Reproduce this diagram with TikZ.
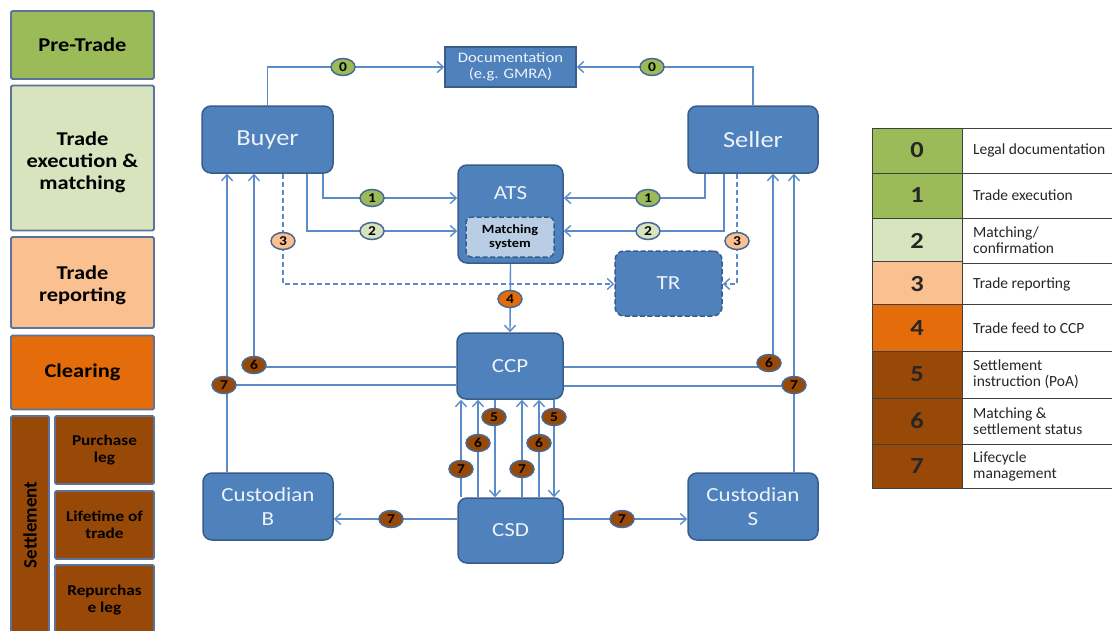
\documentclass[tikz,border=0pt]{standalone}
\usepackage{fontspec}
\setmainfont{Carlito}[FakeStretch=1.15]
\newfontfamily\legfont{Carlito}
\usetikzlibrary{arrows.meta,shapes.geometric}
\definecolor{boxblue}{HTML}{4F81BD}
\definecolor{boxedge}{HTML}{385D8A}
\definecolor{linecol}{HTML}{5B8BC9}
\definecolor{pregreen}{HTML}{9BBB59}
\definecolor{ltgreen}{HTML}{D7E4BD}
\definecolor{peach}{HTML}{FAC090}
\definecolor{clrorange}{HTML}{E46C0A}
\definecolor{clrbrown}{HTML}{984807}
\definecolor{panedge}{HTML}{5B7399}
\definecolor{badgeedge}{HTML}{4A6A96}
\definecolor{msfill}{HTML}{B9CDE5}
\definecolor{legedge}{HTML}{404040}
\definecolor{textgray}{HTML}{262626}
\definecolor{boxtext}{HTML}{EEF3FA}
\begin{document}
\begin{tikzpicture}[x=1pt,y=-1pt,
  box/.style={draw=boxedge, fill=boxblue, line width=1.5pt, rounded corners=9pt, text=boxtext, inner sep=0pt, align=center, font=\fontsize{20}{24}\selectfont},
  dashbox/.style={box, dash pattern=on 5pt off 2.5pt},
  pane/.style={draw=panedge, line width=1.8pt, rounded corners=1.5pt, inner sep=0pt, align=center, font=\bfseries\fontsize{19.5}{22}\selectfont, text=black},
  panetext/.style={align=center, inner sep=0pt, font=\bfseries\fontsize{19.5}{22}\selectfont, text=black},
  subpane/.style={pane, minimum width=99pt, font=\bfseries\fontsize{15}{17}\selectfont},
  badge/.style={ellipse, draw=badgeedge, line width=1.5pt, minimum width=24pt, minimum height=17pt, inner sep=0pt, text=black, font=\bfseries\fontsize{13.5}{13.5}\selectfont},
  conn/.style={draw=linecol, line width=1.4pt},
  arr/.style={conn, -{Straight Barb[length=6pt,width=11pt]}},
  darr/.style={arr, dash pattern=on 5pt off 3pt},
  legnum/.style={draw=legedge, line width=1pt, minimum width=90pt, minimum height=45pt, inner sep=0pt, font=\bfseries\fontsize{23}{23}\selectfont, text=textgray},
  legcell/.style={draw=legedge, line width=1pt, minimum width=150pt, minimum height=45pt, inner sep=0pt, fill=white},
  legtext/.style={anchor=west, align=left, font=\legfont\fontsize{15.5}{16}\selectfont, text=textgray, inner sep=0pt}
]
\useasboundingbox (0,0) rectangle (1112,630);
\fill[white] (0,0) rectangle (1112,630);

% ---------- left panel ----------
\node[pane, fill=pregreen, minimum width=143pt, minimum height=68pt] (pre) at (82.5,45) {Pre-Trade};
\node[pane, fill=ltgreen, minimum width=143pt, minimum height=145pt] (exec) at (82.5,158) {};
\node[panetext] (exectxt) at (82.5,162) {Trade\\execution \&\\matching};
\node[pane, fill=peach, minimum width=143pt, minimum height=91pt] (rep) at (82.5,282.5) {};
\node[panetext] (reptxt) at (82.5,285) {Trade\\reporting};
\node[pane, fill=clrorange, minimum width=143pt, minimum height=74pt] (clr) at (82.5,372.5) {Clearing};
\node[pane, fill=clrbrown, minimum width=38pt, minimum height=220pt] (settle) at (30,526) {};
\node[font=\legfont\bfseries\fontsize{19}{22}\selectfont, rotate=90] (settletxt) at (30,525) {Settlement};
\node[subpane, fill=clrbrown, minimum height=68pt] (purch) at (104.5,450) {Purchase\\leg};
\node[subpane, fill=clrbrown, minimum height=68pt] (life) at (104.5,525) {Lifetime of\\trade};
\node[subpane, fill=clrbrown, minimum height=70pt] (repur) at (104.5,600) {Repurchas\\e leg};

% ---------- main boxes ----------
\node[box, rounded corners=0pt, minimum width=131pt, minimum height=40pt, font=\fontsize{14.5}{16}\selectfont] (doc) at (510.5,67) {Documentation\\(e.g. GMRA)};
\node[box, minimum width=131pt, minimum height=67pt, font=\fontsize{23}{26}\selectfont] (buyer) at (267.5,139.5) {Buyer};
\node[box, minimum width=130pt, minimum height=67pt, font=\fontsize{23}{26}\selectfont] (seller) at (753,139.5) {Seller};
\node[box, minimum width=105pt, minimum height=98pt] (ats) at (510.5,214) {};
\node[text=boxtext, font=\fontsize{20}{23}\selectfont] (atstxt) at (510.5,193) {ATS};
\node[dashbox, fill=msfill, rounded corners=5pt, minimum width=88pt, minimum height=40pt, text=black, font=\bfseries\fontsize{12.5}{14}\selectfont] (ms) at (510,237) {Matching\\system};
\node[dashbox, minimum width=107pt, minimum height=65pt] (tr) at (668.5,283.5) {TR};
\node[box, minimum width=106pt, minimum height=66pt] (ccp) at (510,366) {CCP};
\node[box, minimum width=105pt, minimum height=65pt] (csd) at (510.5,530.5) {CSD};
\node[box, minimum width=130pt, minimum height=67pt] (custb) at (268,506.5) {Custodian\\B};
\node[box, minimum width=130pt, minimum height=67pt] (custs) at (753,506.5) {Custodian\\S};

% ---------- connectors ----------
\draw[arr] (buyer.north) |- (doc.west);
\draw[arr] (seller.north) |- (doc.east);
\draw[arr] (buyer.south -| 323,0) |- (ats.west |- 0,198);
\draw[arr] (buyer.south -| 307,0) |- (ats.west |- 0,231);
\draw[darr] (buyer.south -| 283,0) |- (tr.west |- 0,284);
\draw[arr] (seller.south -| 705,0) |- (ats.east |- 0,198);
\draw[arr] (seller.south -| 724,0) |- (ats.east |- 0,231);
\draw[darr] (seller.south -| 737,0) |- (tr.east |- 0,284);
\draw[arr] (ats.south) -- (ccp.north);

\coordinate (j7l) at (227,385);
\coordinate (j7r) at (794,386);
\draw[arr] (ccp.west |- 0,367) -| (buyer.south -| 254,0);
\draw[conn] (ccp.west |- 0,385) -- (j7l);
\draw[arr] (custb.north -| 227,0) -- (buyer.south -| 227,0);
\draw[arr] (ccp.east |- 0,367) -| (seller.south -| 773,0);
\draw[conn] (ccp.east |- 0,386) -- (j7r);
\draw[arr] (custs.north -| 794,0) -- (seller.south -| 794,0);

\foreach \x in {461,478,522,539} \draw[arr] (csd.north -| \x,0) -- (ccp.south -| \x,0);
\foreach \x in {495,554} \draw[arr] (ccp.south -| \x,0) -- (csd.north -| \x,0);

\draw[arr] (csd.west |- 0,519) -- (custb.east |- 0,519);
\draw[arr] (csd.east |- 0,519) -- (custs.west |- 0,519);

% ---------- badges ----------
\node[badge, fill=pregreen] (b0l) at (343,67) {0};
\node[badge, fill=pregreen] (b0r) at (652,67) {0};
\node[badge, fill=pregreen] (b1l) at (372,198) {1};
\node[badge, fill=pregreen] (b1r) at (648,198) {1};
\node[badge, fill=ltgreen] (b2l) at (372,231) {2};
\node[badge, fill=ltgreen] (b2r) at (648,231) {2};
\node[badge, fill=peach] (b3l) at (283,241) {3};
\node[badge, fill=peach] (b3r) at (737,241) {3};
\node[badge, fill=clrorange] (b4) at (510,299) {4};
\node[badge, fill=clrbrown] (b6l) at (254,365) {6};
\node[badge, fill=clrbrown] (b7l) at (224,385) {7};
\node[badge, fill=clrbrown] (b6r) at (769,363) {6};
\node[badge, fill=clrbrown] (b7r) at (794,385) {7};
\node[badge, fill=clrbrown] (b5a) at (494,417) {5};
\node[badge, fill=clrbrown] (b6a) at (478,443) {6};
\node[badge, fill=clrbrown] (b7a) at (461,469) {7};
\node[badge, fill=clrbrown] (b5b) at (554,417) {5};
\node[badge, fill=clrbrown] (b6b) at (539,443) {6};
\node[badge, fill=clrbrown] (b7b) at (522,469) {7};
\node[badge, fill=clrbrown] (b7c) at (391,519) {7};
\node[badge, fill=clrbrown] (b7d) at (622,519) {7};

% ---------- legend ----------
\node[legnum, fill=pregreen] (l0) at (917,150.5) {0};
\node[legnum, fill=pregreen] (l1) at (917,195.5) {1};
\node[legnum, fill=ltgreen] (l2) at (917,240.5) {2};
\node[legnum, fill=peach] (l3) at (917,284) {3};
\node[legnum, fill=clrorange, minimum height=47pt] (l4) at (917,328) {4};
\node[legnum, fill=clrbrown, minimum height=47pt] (l5) at (917,374.5) {5};
\node[legnum, fill=clrbrown, minimum height=46pt] (l6) at (917,421) {6};
\node[legnum, fill=clrbrown, minimum height=44pt] (l7) at (917,466) {7};
\foreach \i/\y/\h in {0/150.5/45,1/195.5/45,2/240.5/45,3/284/42,4/328/47,5/374.5/47,6/421/46,7/466/44}
  \node[legcell, minimum height=\h pt] (c\i) at (1037,\y) {};
\node[legtext] (t0) at (973,150.5) {Legal documentation};
\node[legtext] (t1) at (973,195.5) {Trade execution};
\node[legtext] (t2) at (973,240.5) {Matching/\\confirmation};
\node[legtext] (t3) at (973,284) {Trade reporting};
\node[legtext] (t4) at (973,328) {Trade feed to CCP};
\node[legtext] (t5) at (973,374.5) {Settlement\\instruction (PoA)};
\node[legtext] (t6) at (973,421) {Matching \&\\settlement status};
\node[legtext] (t7) at (973,466) {Lifecycle\\management};
\end{tikzpicture}
\end{document}
